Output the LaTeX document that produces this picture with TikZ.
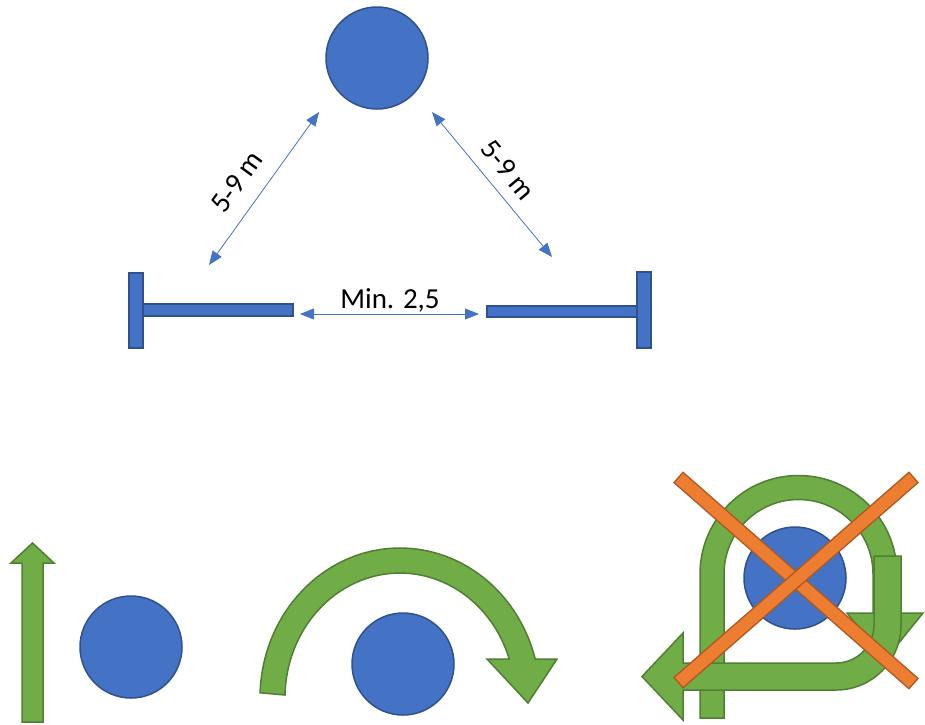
\documentclass[tikz,border=0pt]{standalone}
\usepackage{fontspec}
\setmainfont{Carlito}
\usetikzlibrary{arrows.meta}
\definecolor{fillblue}{HTML}{4472C4}
\definecolor{lineblue}{HTML}{2F528F}
\definecolor{fillgreen}{HTML}{70AD47}
\definecolor{linegreen}{HTML}{507E32}
\definecolor{fillorange}{HTML}{ED7D31}
\definecolor{lineorange}{HTML}{AE5A21}

\begin{document}
\begin{tikzpicture}[x=1pt, y=-1pt,
        dot/.style={circle, draw=lineblue, fill=fillblue, line width=1.5pt, minimum size=102pt, inner sep=0pt},
        bar/.style={draw=lineblue, fill=fillblue, line width=1.5pt},
        dim/.style={fillblue, line width=0.8pt, {Triangle[length=14pt,width=11pt]}-{Triangle[length=14pt,width=11pt]}},
        lbl/.style={font=\fontsize{29}{34}\selectfont, inner sep=0pt},
        turn/.style={draw=linegreen, fill=fillgreen, line width=1.5pt},
        cross/.style={line width=15pt, lineorange},
        crossfill/.style={line width=12pt, fillorange, shorten <=1.5pt, shorten >=1.5pt}
    ]
        \useasboundingbox (0,0) rectangle (925,724);

        % Ball and the two posts
        \node[dot] (ball) at (377,58) {};
        \draw[bar] (129,273) rectangle (143,348);
        \draw[bar] (143,304) rectangle (293,316);
        \draw[bar] (637,272) rectangle (651,348);
        \draw[bar] (487,306) rectangle (637,317);

        \coordinate (tl) at (319,112);
        \coordinate (bl) at (209,265);
        \coordinate (tr) at (432,112);
        \coordinate (br) at (552,257);
        \coordinate (ml) at (300,314);
        \coordinate (mr) at (479,314);

        \draw[dim] (tl) -- (bl);
        \draw[dim] (tr) -- (br);
        \draw[dim] (ml) -- (mr);

        \node[lbl, rotate=54] (dleft) at (237,182) {5-9 m};
        \node[lbl, rotate=-50] (dright) at (508,170) {5-9 m};
        \node[lbl, anchor=base] (dmid) at (390,308) {Min. 2,5};

        % Straight up
        \draw[turn] (22,722) -- (22,563) -- (11,563) -- (32.5,543) -- (54,563) -- (43,563) -- (43,722) -- cycle;
        \node[dot] (ball1) at (131,647) {};

        % Over the ball
        \draw[turn] (260.1,692.8) arc[start angle=-178, end angle=-15, x radius=140, y radius=150]
            -- (557,659) -- (528,703) -- (487,659) -- (509.2,659)
            arc[start angle=-18.2, end angle=-178.6, x radius=115, y radius=125] -- cycle;
        \node[dot] (ball2) at (403,664) {};

        % Round the ball (not allowed)
        \draw[turn] (700,718) -- (700,574) arc[start angle=180, end angle=360, radius=98.5]
            -- (897,613) -- (923,613) -- (885,660) -- (847,613) -- (873,613) -- (873,574)
            arc[start angle=360, end angle=180, radius=74.5] -- (724,718) -- cycle;
        \draw[turn] (901,556) -- (901,625) arc[start angle=0, end angle=90, radius=65]
            -- (683,690) -- (683,720) -- (642,676.5) -- (683,633) -- (683,663) -- (836,663)
            arc[start angle=90, end angle=0, radius=38] -- (874,556) -- cycle;
        \node[dot] (ball3) at (795,578) {};

        \coordinate (xa) at (678,477);
        \coordinate (xb) at (914,684);
        \coordinate (xc) at (914,477);
        \coordinate (xd) at (678,683);
        \draw[cross] (xa) -- (xb);
        \draw[crossfill] (xa) -- (xb);
        \draw[cross] (xc) -- (xd);
        \draw[crossfill] (xc) -- (xd);
    \end{tikzpicture}
\end{document}
